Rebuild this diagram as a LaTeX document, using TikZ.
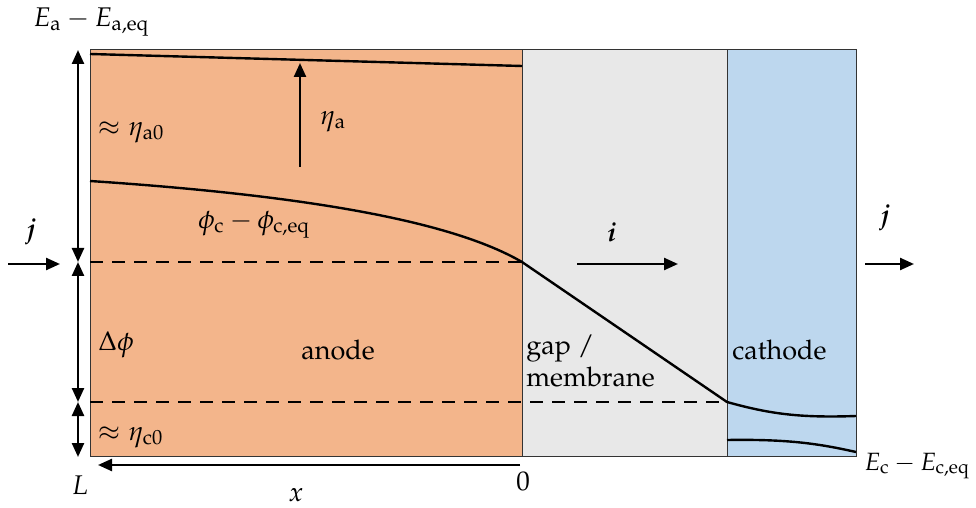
\documentclass[tikz,border=0pt]{standalone}
\usepackage{amsmath}
\usepackage[T1]{fontenc}
\usepackage{mathpazo}
\usetikzlibrary{arrows.meta, positioning, calc}
\definecolor{anodecol}{HTML}{F3B58B}
\definecolor{gapcol}{HTML}{E8E8E8}
\definecolor{cathcol}{HTML}{BDD7EE}

\begin{document}
\begin{tikzpicture}[
    x=0.5pt, y=-0.5pt,
    region/.style={draw=black!80, line width=0.5pt},
    curve/.style={line width=1.2pt},
    level/.style={line width=1.2pt, dash pattern=on 6.5pt off 4.5pt},
    arrow/.style={line width=1.2pt, -{Triangle[length=7pt, width=6pt]}},
    dim/.style={line width=1.2pt, {Triangle[length=7pt, width=6pt]}-{Triangle[length=7pt, width=6pt]}},
    lbl/.style={inner sep=1pt, font=\fontsize{13.5}{16}\selectfont}
]
\useasboundingbox (0,0) rectangle (976,508);

% regions
\fill[anodecol] (90,50) rectangle (522,456);
\fill[gapcol] (522,50) rectangle (727,456);
\fill[cathcol] (727,50) rectangle (856,456);
\draw[region] (90,50) rectangle (856,456);
\draw[region] (522,50) -- (522,456);
\draw[region] (727,50) -- (727,456);

% key points
\coordinate (ea0) at (90,54);
\coordinate (ea1) at (522,66);
\coordinate (ph0) at (90,181);
\coordinate (ph1) at (522,262);
\coordinate (ph2) at (727,402);
\coordinate (ph3) at (856,416);
\coordinate (ec0) at (727,440);
\coordinate (ec1) at (856,452);
\coordinate (lv1) at (90,262);
\coordinate (lv2) at (90,402);

% potentials
\draw[curve] (ea0) -- (ea1);
\draw[curve] (ph0) .. controls (300,195) and (450,220) .. (ph1) -- (ph2)
    .. controls (770,414) and (800,418) .. (ph3);
\draw[curve] (ec0) .. controls (790,439) and (820,444) .. (ec1);
\draw[level] (lv1) -- (ph1);
\draw[level] (lv2) -- (ph2);

% overpotential arrow
\coordinate (eta0) at (300,167);
\coordinate (eta1) at (300,63);
\draw[arrow] (eta0) -- (eta1);
\node[lbl, anchor=west] (etaa) at (318,122) {$\eta_\mathrm{a}$};

% left scale
\coordinate (s0) at (78,50);
\coordinate (s1) at (78,262);
\coordinate (s2) at (78,402);
\coordinate (s3) at (78,457);
\draw[dim] (s0) -- (s1);
\draw[dim] (s1) -- (s2);
\draw[dim] (s2) -- (s3);

% currents
\coordinate (jl0) at (8,264);
\coordinate (jl1) at (60,264);
\coordinate (ii0) at (577,264);
\coordinate (ii1) at (678,264);
\coordinate (jr0) at (865,264);
\coordinate (jr1) at (914,264);
\draw[arrow] (jl0) -- (jl1);
\draw[arrow] (ii0) -- (ii1);
\draw[arrow] (jr0) -- (jr1);
\node[lbl] (jl) at (31,232) {$\boldsymbol{j}$};
\node[lbl] (ii) at (612,232) {$\boldsymbol{i}$};
\node[lbl] (jr) at (885,218) {$\boldsymbol{j}$};

% x axis
\coordinate (x0) at (520,465);
\coordinate (x1) at (98,465);
\draw[arrow] (x0) -- (x1);
\node[lbl] (lL) at (80,485) {$L$};
\node[lbl] (l0) at (523,481) {$0$};
\node[lbl] (lx) at (296,495) {$x$};

% labels
\node[lbl, anchor=west] (ea) at (31,22) {$E_\mathrm{a}-E_\mathrm{a,eq}$};
\node[lbl, anchor=west, inner sep=0pt, font=\fontsize{12.5}{15}\selectfont]
    (ec) at (864,466) {$E_\mathrm{c}-E_\mathrm{c,eq}$};
\node[lbl, anchor=west] (etaa0) at (96,132) {$\approx\eta_\mathrm{a0}$};
\node[lbl, anchor=west] (phic) at (196,225) {$\phi_\mathrm{c}-\phi_\mathrm{c,eq}$};
\node[lbl, anchor=west] (dphi) at (96,345) {$\Delta\phi$};
\node[lbl, anchor=west] (etac0) at (96,437) {$\approx\eta_\mathrm{c0}$};
\node[lbl] (anode) at (338,350) {anode};
\node[lbl, anchor=west, align=left] (gap) at (524,361) {gap /\\membrane};
\node[lbl, anchor=west] (cath) at (730,350) {cathode};

\end{tikzpicture}
\end{document}
